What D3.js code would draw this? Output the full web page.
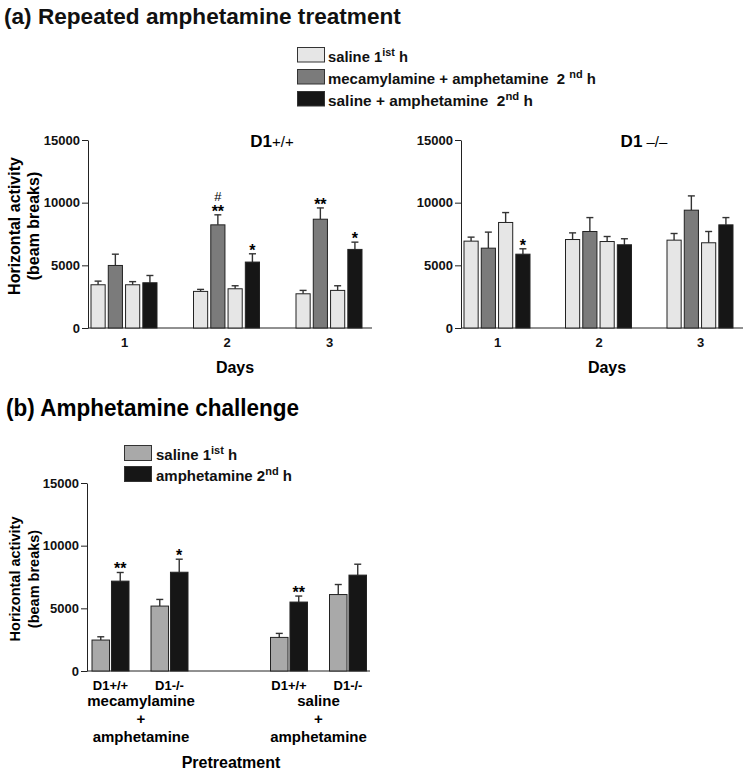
<!DOCTYPE html>
<html>
<head>
<meta charset="utf-8">
<script src="https://cdn.jsdelivr.net/npm/d3@7"></script>
<style>
  body { margin: 0; background: #fff; }
  svg { font-family: "Liberation Sans", Arial, sans-serif; }
</style>
</head>
<body>
<svg id="chart" width="751" height="775"></svg>
<script>
// ---- data (a) repeated amphetamine treatment ----
var days = ["1", "2", "3"];
var barKeys = ["sal1", "mec", "sal1b", "amph"];
var barColors = ["#e6e6e6", "#7b7b7b", "#e6e6e6", "#161616"];

var legendA = ["saline 1|ist| h", "mecamylamine + amphetamine  2 |nd| h", "saline + amphetamine  2|nd| h"];
var legendAColors = ["#e6e6e6", "#7b7b7b", "#161616"];

// D1+/+ means and SEM, per day: [saline, mec+amph, saline, saline+amph]
var wtMean = [[3450, 4990, 3450, 3610], [2920, 8230, 3130, 5260], [2730, 8680, 3000, 6270]];
var wtSem  = [[290, 900, 250, 580], [160, 800, 240, 660], [270, 900, 370, 580]];
var wtMark = [["", "", "", ""], ["", "**", "", "*"], ["", "**", "", "*"]];
var wtHash = [["", "", "", ""], ["", "#", "", ""], ["", "", "", ""]];

// D1-/- means and SEM
var koMean = [[6930, 6370, 8420, 5890], [7060, 7700, 6900, 6640], [7010, 9400, 6800, 8230]];
var koSem  = [[320, 1280, 790, 430], [530, 1110, 400, 480], [530, 1140, 900, 580]];
var koMark = [["", "", "", "*"], ["", "", "", ""], ["", "", "", ""]];

var yTicks = [0, 5000, 10000, 15000];

// ---- data (b) amphetamine challenge ----
var pretreat = ["mec", "sal"];
var pretreatLines = [["mecamylamine", "+", "amphetamine"], ["saline", "+", "amphetamine"]];
var genotypes = ["D1+/+", "D1-/-"];
var challengeKeys = ["saline", "amph"];
var challengeColors = ["#a9a9a9", "#161616"];
var legendB = ["saline 1|ist| h", "amphetamine 2|nd| h"];
// per pretreatment, per genotype: [saline 1st h, amphetamine 2nd h]
var bMean = [[[2470, 7170], [5180, 7880]], [[2680, 5500], [6100, 7650]]];
var bSem  = [[[260, 690], [530, 1040]], [[320, 480], [800, 870]]];
var bMark = [[["", "**"], ["", "*"]], [["", "**"], ["", ""]]];

var svg = d3.select("#chart");

function styleAxis(g) {
  g.selectAll("path, line").attr("stroke", "#222").attr("stroke-width", 1);
  g.selectAll("text").attr("font-size", 13).attr("font-weight", "bold").attr("fill", "#111")
    .attr("font-family", "'Liberation Sans', Arial, sans-serif");
}

// text with superscript parts separated by |
function richText(sel, str, supSize) {
  var parts = str.split("|");
  parts.forEach(function(p, i) {
    var t = sel.append("tspan").text(p);
    if (i % 2 === 1) t.attr("font-size", supSize).attr("dy", -6);
    else if (i > 0) t.attr("dy", 6);
  });
}

// squeeze a text horizontally so it spans the given width
function fitWidth(g, text, x, y, width) {
  var len = text.node().getComputedTextLength();
  g.attr("transform", "translate(" + x + "," + y + ") scale(" + (width / len) + ",1)");
}

function yLabel(x, cy, size) {
  var g = svg.append("g").attr("transform", "translate(" + x + "," + cy + ") rotate(-90)");
  g.append("text").attr("text-anchor", "middle").attr("font-size", size).attr("font-weight", "bold")
    .attr("y", 0).text("Horizontal activity");
  g.append("text").attr("text-anchor", "middle").attr("font-size", size).attr("font-weight", "bold")
    .attr("y", 19).text("(beam breaks)");
}

function errorBars(g, x, w, yTop, yErr) {
  g.append("line").attr("x1", x + w / 2).attr("x2", x + w / 2).attr("y1", yTop).attr("y2", yErr)
    .attr("stroke", "#333").attr("stroke-width", 1.4);
  g.append("line").attr("x1", x + w / 2 - 3.5).attr("x2", x + w / 2 + 3.5).attr("y1", yErr).attr("y2", yErr)
    .attr("stroke", "#333").attr("stroke-width", 1.4);
}

// ---------- panel (a) ----------
var tg = svg.append("g");
var tA = tg.append("text").attr("font-size", 22).attr("font-weight", "bold").attr("fill", "#111")
  .text("(a) Repeated amphetamine treatment");
fitWidth(tg, tA, 4, 24, 397);

var legendAWidths = [80, 268, 205];
legendA.forEach(function(l, i) {
  svg.append("rect").attr("x", 297.5).attr("y", 47.5 + i * 22).attr("width", 27).attr("height", 14.5)
    .attr("fill", legendAColors[i]).attr("stroke", "#333").attr("stroke-width", 1);
  var lg = svg.append("g");
  var t = lg.append("text").attr("font-size", 15).attr("font-weight", "bold").attr("fill", "#111")
    .style("white-space", "pre");
  richText(t, l, 11);
  fitWidth(lg, t, 328, 62 + i * 22, legendAWidths[i]);
});

function panelA(x0, x1, mean, sem, marks, hashes, title, titleRest, restSep) {
  var y = d3.scaleLinear().domain([0, 15000]).range([328, 140]);
  var xDay = d3.scalePoint().domain(days).range([x0 + 36, x1 - 43]);
  var xBar = d3.scaleBand().domain(barKeys).range([-33, 33]).paddingInner(0.18);
  var g = svg.append("g");

  g.append("g").attr("transform", "translate(" + x0 + ",0)")
    .call(d3.axisLeft(y).tickValues(yTicks).tickFormat(d3.format("d")).tickSize(6).tickSizeOuter(0).tickPadding(2))
    .call(styleAxis);

  g.append("line").attr("x1", x0).attr("x2", x1).attr("y1", y(0)).attr("y2", y(0))
    .attr("stroke", "#222").attr("stroke-width", 1);
  g.append("g").attr("transform", "translate(0," + y(0) + ")")
    .call(d3.axisBottom(xDay).tickSize(0).tickPadding(10))
    .call(styleAxis)
    .call(function(a) { a.select(".domain").remove(); });

  days.forEach(function(d, di) {
    barKeys.forEach(function(k, ki) {
      var bx = xDay(d) + xBar(k), bw = xBar.bandwidth();
      var top = y(mean[di][ki]), err = y(mean[di][ki] + sem[di][ki]);
      errorBars(g, bx, bw, top, err);
      g.append("rect").attr("x", bx).attr("y", top).attr("width", bw).attr("height", y(0) - top)
        .attr("fill", barColors[ki]).attr("stroke", "#222").attr("stroke-width", 1);
      if (marks[di][ki]) {
        g.append("text").attr("x", bx + bw / 2).attr("y", err + 2).attr("text-anchor", "middle")
          .attr("font-size", 16).attr("font-weight", "bold").text(marks[di][ki]);
      }
      if (hashes && hashes[di][ki]) {
        g.append("text").attr("x", bx + bw / 2).attr("y", err - 14).attr("text-anchor", "middle")
          .attr("font-size", 13).text(hashes[di][ki]);
      }
    });
  });

  var cx = (x0 + x1) / 2 + 42;
  var tt = g.append("text").attr("x", cx).attr("y", 147).attr("text-anchor", "middle").style("white-space", "pre");
  tt.append("tspan").attr("font-size", 17).attr("font-weight", "bold").text(title);
  tt.append("tspan").attr("font-size", 15).text(restSep + titleRest);

  g.append("text").attr("x", (x0 + x1) / 2 + 5).attr("y", 373).attr("text-anchor", "middle")
    .attr("font-size", 16).attr("font-weight", "bold").text("Days");
}

yLabel(20, 226, 16);
panelA(88, 372, wtMean, wtSem, wtMark, wtHash, "D1", "+/+", "");
panelA(461, 743, koMean, koSem, koMark, null, "D1", "\u2013/\u2013", " ");

// ---------- panel (b) ----------
svg.append("text").attr("x", 6).attr("y", 416)
  .attr("font-size", 23).attr("font-weight", "bold")
  .attr("textLength", 293).attr("lengthAdjust", "spacingAndGlyphs")
  .text("(b) Amphetamine challenge");

legendB.forEach(function(l, i) {
  svg.append("rect").attr("x", 124.5).attr("y", 445.5 + i * 21).attr("width", 27).attr("height", 15)
    .attr("fill", challengeColors[i]).attr("stroke", "#333").attr("stroke-width", 1);
  var t = svg.append("text").attr("x", 156).attr("y", 460 + i * 21)
    .attr("font-size", 15).attr("font-weight", "bold").attr("fill", "#111").style("white-space", "pre");
  richText(t, l, 11);
});

(function() {
  var x0 = 87, x1 = 370;
  var y = d3.scaleLinear().domain([0, 15000]).range([671, 483]);
  var xPre = d3.scalePoint().domain(pretreat).range([140, 318.5]);
  var xGen = d3.scalePoint().domain(genotypes).range([-29.5, 29.5]);
  var xBar = d3.scaleBand().domain(challengeKeys).range([-18.5, 18.5]).paddingInner(0.1);
  var g = svg.append("g");

  g.append("g").attr("transform", "translate(" + x0 + ",0)")
    .call(d3.axisLeft(y).tickValues(yTicks).tickFormat(d3.format("d")).tickSize(6).tickSizeOuter(0).tickPadding(2))
    .call(styleAxis);
  g.append("line").attr("x1", x0).attr("x2", x1).attr("y1", y(0)).attr("y2", y(0))
    .attr("stroke", "#222").attr("stroke-width", 1);

  pretreat.forEach(function(p, pi) {
    genotypes.forEach(function(gt, gi) {
      var cx = xPre(p) + xGen(gt);
      challengeKeys.forEach(function(k, ki) {
        var bx = cx + xBar(k), bw = xBar.bandwidth();
        var top = y(bMean[pi][gi][ki]), err = y(bMean[pi][gi][ki] + bSem[pi][gi][ki]);
        errorBars(g, bx, bw, top, err);
        g.append("rect").attr("x", bx).attr("y", top).attr("width", bw).attr("height", y(0) - top)
          .attr("fill", challengeColors[ki]).attr("stroke", "#222").attr("stroke-width", 1);
        if (bMark[pi][gi][ki]) {
          g.append("text").attr("x", bx + bw / 2).attr("y", err + 2).attr("text-anchor", "middle")
            .attr("font-size", 16).attr("font-weight", "bold").text(bMark[pi][gi][ki]);
        }
      });
      g.append("text").attr("x", cx).attr("y", 690).attr("text-anchor", "middle")
        .attr("font-size", 13).attr("font-weight", "bold").text(gt);
    });
    pretreatLines[pi].forEach(function(line, li) {
      g.append("text").attr("x", xPre(p) + (pi === 0 ? 1 : 0)).attr("y", 706 + li * 18).attr("text-anchor", "middle")
        .attr("font-size", 15).attr("font-weight", "bold").text(line);
    });
  });

  g.append("text").attr("x", 231).attr("y", 768).attr("text-anchor", "middle")
    .attr("font-size", 16).attr("font-weight", "bold").text("Pretreatment");
})();

yLabel(20, 579, 14.5);
</script>
</body>
</html>
